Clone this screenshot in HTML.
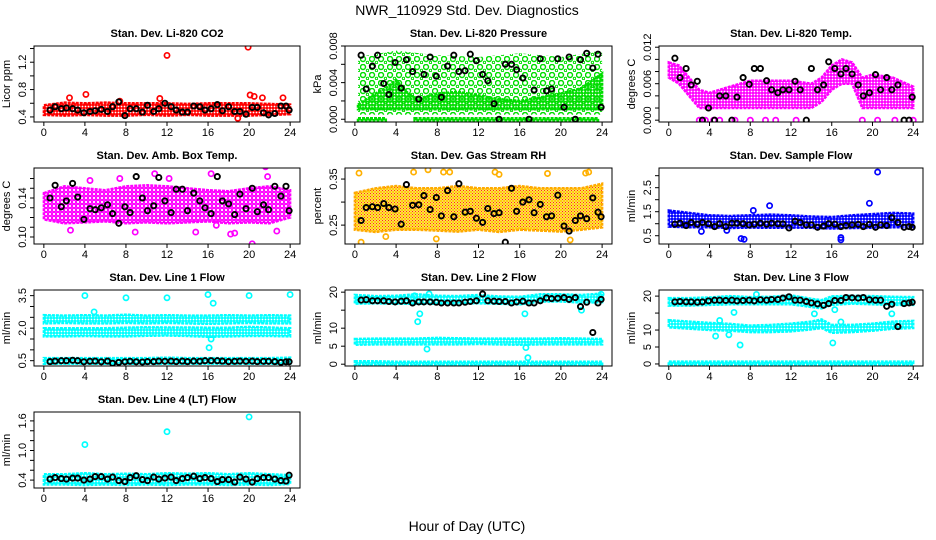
<!DOCTYPE html>
<html><head><meta charset="utf-8"><style>
html,body{margin:0;padding:0;background:#fff}
svg{display:block}
text{font-family:"Liberation Sans",Arial,sans-serif;fill:#000}
</style></head><body>
<svg id="chart" width="936" height="540" viewBox="0 0 936 540" xmlns="http://www.w3.org/2000/svg">
<defs>
<pattern id="pd-red" width="3" height="3" patternUnits="userSpaceOnUse"><circle cx="1.5" cy="1.5" r="1.6" fill="none" stroke="#ff0000" stroke-width="1.4"/></pattern>
<pattern id="pd-green" width="3" height="3" patternUnits="userSpaceOnUse"><circle cx="1.5" cy="1.5" r="1.6" fill="none" stroke="#00dd00" stroke-width="1.3"/></pattern>
<pattern id="ps-green" width="9" height="8" patternUnits="userSpaceOnUse"><circle cx="3" cy="3" r="2.5" fill="none" stroke="#00dd00" stroke-width="1.4"/><circle cx="7.5" cy="6.5" r="1.2" fill="none" stroke="#00dd00" stroke-width="1"/></pattern>
<pattern id="pd-mag" width="3" height="3" patternUnits="userSpaceOnUse"><circle cx="1.5" cy="1.5" r="1.6" fill="none" stroke="#ff00ff" stroke-width="1.4"/></pattern>
<pattern id="ps-mag" width="4" height="4" patternUnits="userSpaceOnUse"><circle cx="2" cy="2" r="1.8" fill="none" stroke="#ff00ff" stroke-width="1.4"/></pattern>
<pattern id="pd-org" width="3" height="3" patternUnits="userSpaceOnUse"><circle cx="1.5" cy="1.5" r="1.6" fill="none" stroke="#ffcc00" stroke-width="1.3"/><circle cx="1.5" cy="1.5" r="0.6" fill="#ff3300"/></pattern>
<pattern id="pd-blue" width="3" height="3" patternUnits="userSpaceOnUse"><circle cx="1.5" cy="1.5" r="1.6" fill="none" stroke="#0000ff" stroke-width="1.4"/></pattern>
<pattern id="pd-cyan" width="3" height="3" patternUnits="userSpaceOnUse"><circle cx="1.5" cy="1.5" r="1.6" fill="none" stroke="#00ffff" stroke-width="1.4"/></pattern>
</defs>
<text x="467" y="15" font-size="14" text-anchor="middle">NWR_110929  Std. Dev. Diagnostics</text>
<text x="467" y="531" font-size="14" text-anchor="middle">Hour of Day (UTC)</text>
</svg>
<script>
// ---- shared data ----
const xTicks = [0,4,8,12,16,20,24];
const blackHours = [0.6,1.1,1.7,2.2,2.8,3.3,3.9,4.5,5.0,5.6,6.2,6.7,7.3,7.9,8.4,9.0,9.6,10.1,10.7,11.2,11.8,12.4,12.9,13.5,14.0,14.6,15.2,15.7,16.3,16.9,17.4,18.0,18.6,19.1,19.7,20.3,20.8,21.4,21.9,22.5,23.1,23.6,23.9];

// Panel 1: Li-820 CO2
const co2BandX = [0,2,4,6,8,10,12,14,16,18,20,22,24];
const co2BandLo = [0.43,0.42,0.43,0.42,0.42,0.43,0.42,0.43,0.42,0.42,0.42,0.43,0.44];
const co2BandHi = [0.57,0.61,0.6,0.61,0.6,0.6,0.6,0.59,0.6,0.6,0.6,0.59,0.58];
const co2OutX = [12.0,19.9,4.1,2.5,20.1,20.5,11.3,21.3,23.3,18.9,7.4];
const co2OutY = [1.3,1.42,0.73,0.68,0.72,0.7,0.67,0.68,0.68,0.38,0.63];
const co2Black = [0.5,0.55,0.52,0.53,0.52,0.5,0.46,0.48,0.49,0.51,0.48,0.55,0.62,0.42,0.52,0.52,0.47,0.57,0.48,0.52,0.6,0.55,0.5,0.47,0.47,0.56,0.55,0.5,0.52,0.58,0.49,0.55,0.48,0.48,0.44,0.54,0.54,0.46,0.43,0.45,0.56,0.56,0.5];

// Panel 2: Li-820 Pressure
const prsZeroX1 = [0.3,3.0];
const prsZeroX2 = [5.8,23.6];
const prsDenseX = [0.3,2,3,4,5,6,8,10,12,14,16,18,20,22,24];
const prsDenseLo = [0.0011,0.0011,0.0011,0.0011,0.0011,0.0011,0.0011,0.0011,0.0011,0.0011,0.0011,0.0011,0.0011,0.0011,0.0011];
const prsDenseHi = [0.0016,0.0028,0.0034,0.0043,0.003,0.0022,0.0028,0.003,0.0026,0.0022,0.002,0.0024,0.0028,0.0034,0.005];
const prsSparseX = [0.3,4,8,12,16,20,24];
const prsSparseLo = [0.0005,0.0005,0.0005,0.0005,0.0005,0.0005,0.0005];
const prsSparseHi = [0.0068,0.0075,0.007,0.0068,0.0072,0.0068,0.0075];
const prsBlack = [0.007,0.0033,0.0058,0.007,0.0039,0.0027,0.0062,0.0034,0.0065,0.0052,0.0022,0.0049,0.0068,0.0047,0.0024,0.0058,0.007,0.0052,0.0053,0.0071,0.0064,0.0049,0.0042,0.0017,0.0,0.006,0.006,0.0054,0.0045,0.0,0.0032,0.0066,0.0031,0.0033,0.0066,0.0013,0.0068,0.0,0.0065,0.0072,0.0056,0.0071,0.0013];

// Panel 3: Li-820 Temp
const ltBandX = [0,1,2,3,4,6,8,10,12,14,15,16,17,18,19,20,22,24];
const ltBandLo = [0.007,0.006,0.004,0.002,0.002,0.002,0.002,0.002,0.002,0.002,0.003,0.005,0.006,0.006,0.002,0.002,0.002,0.002];
const ltBandHi = [0.0095,0.009,0.007,0.005,0.0045,0.0055,0.0065,0.0065,0.0065,0.006,0.007,0.009,0.01,0.0095,0.007,0.0075,0.007,0.0055];
const ltZeroX = [3.0,3.6,4.4,5.0,6.5,8.0,9.5,10.5,12.5,19.0,20.5,22.2,24.0];
const ltBlack = [0.0102,0.007,0.0085,0.0058,0.0064,0.0,0.002,0.0,0.004,0.004,0.0,0.0038,0.007,0.0059,0.0085,0.0085,0.0065,0.005,0.0045,0.005,0.005,0.0064,0.005,0.0,0.0085,0.005,0.0058,0.0096,0.0085,0.0076,0.0085,0.0076,0.0058,0.004,0.0045,0.0075,0.005,0.007,0.005,0.0058,0.0,0.0,0.0038];

// Panel 4: Amb. Box Temp
const abBandX = [0,2,4,6,8,10,12,14,16,18,20,22,24];
const abBandLo = [0.118,0.114,0.115,0.116,0.114,0.115,0.114,0.115,0.116,0.114,0.115,0.114,0.12];
const abBandHi = [0.145,0.152,0.15,0.148,0.152,0.153,0.152,0.15,0.148,0.147,0.15,0.152,0.148];
const abOutX = [2.6,4.5,7.4,8.9,10.8,12.2,14.8,16.3,18.2,18.6,20.3,21.6,21.8,22.7,0.3,16.8];
const abOutY = [0.107,0.158,0.16,0.105,0.165,0.16,0.105,0.165,0.103,0.104,0.093,0.172,0.162,0.106,0.14,0.112];
const abBlack = [0.14,0.153,0.131,0.137,0.155,0.141,0.118,0.129,0.128,0.13,0.133,0.124,0.114,0.131,0.125,0.162,0.14,0.127,0.132,0.161,0.137,0.125,0.149,0.149,0.127,0.145,0.137,0.13,0.124,0.162,0.137,0.134,0.123,0.144,0.129,0.15,0.126,0.133,0.128,0.152,0.142,0.152,0.127];

// Panel 5: Gas Stream RH
const rhBandX = [0,2,4,6,8,10,12,14,16,18,20,22,24];
const rhBandLo = [0.24,0.235,0.24,0.24,0.238,0.236,0.24,0.235,0.24,0.238,0.236,0.24,0.245];
const rhBandHi = [0.32,0.33,0.335,0.33,0.33,0.335,0.33,0.33,0.335,0.33,0.33,0.33,0.34];
const rhOutX = [0.4,0.6,5.7,7.1,8.6,9.2,13.6,14.0,18.7,22.4,22.7,3.0,7.9,20.9];
const rhOutY = [0.363,0.213,0.365,0.37,0.365,0.365,0.365,0.36,0.362,0.363,0.365,0.225,0.22,0.218];
const rhBlack = [0.26,0.288,0.29,0.288,0.297,0.288,0.285,0.252,0.338,0.293,0.294,0.314,0.284,0.31,0.27,0.325,0.268,0.34,0.278,0.28,0.265,0.256,0.286,0.275,0.277,0.213,0.33,0.28,0.3,0.305,0.277,0.295,0.268,0.27,0.315,0.248,0.237,0.26,0.27,0.264,0.309,0.278,0.268];

// Panel 6: Sample Flow
const sfBandX = [0,2,4,6,8,10,12,14,16,18,20,22,24];
const sfBandLo = [0.88,0.85,0.85,0.82,0.84,0.83,0.84,0.83,0.8,0.82,0.83,0.85,0.86];
const sfBandHi = [1.55,1.45,1.35,1.32,1.35,1.38,1.35,1.3,1.28,1.35,1.4,1.45,1.42];
const sfOutX = [3.2,5.7,7.1,7.4,8.3,9.9,16.9,16.9,19.7,20.5];
const sfOutY = [0.68,0.72,0.38,0.35,1.55,1.75,0.33,0.42,1.85,3.15];
const sfBlack = [0.98,1.02,0.92,1.05,0.98,1.05,1.0,0.88,1.0,0.88,1.02,1.02,1.0,0.95,0.98,1.02,0.98,1.02,1.0,0.99,0.82,1.1,1.05,0.95,0.95,0.85,0.9,1.0,0.98,0.88,0.92,0.95,0.97,0.88,0.97,0.85,0.95,0.92,1.25,1.05,0.85,0.88,0.85];

// Panel 7: Line 1 Flow
const l1BandX = [0,2,4,6,8,10,12,14,16,18,20,22,24];
const l1TopLo = [2.22,2.24,2.22,2.22,2.24,2.22,2.24,2.22,2.2,2.22,2.24,2.22,2.22];
const l1TopHi = [2.6,2.58,2.6,2.58,2.62,2.58,2.6,2.58,2.58,2.6,2.58,2.6,2.58];
const l1MidLo = [1.62,1.62,1.64,1.62,1.62,1.65,1.66,1.64,1.6,1.62,1.64,1.64,1.62];
const l1MidHi = [2.0,2.0,2.0,2.0,2.02,2.04,2.03,2.03,2.02,2.02,2.06,2.03,2.0];
const l1LowLo = [0.36,0.36,0.36,0.36,0.36,0.36,0.36,0.36,0.36,0.36,0.36,0.36,0.36];
const l1LowHi = [0.62,0.62,0.62,0.62,0.62,0.62,0.64,0.62,0.62,0.62,0.62,0.62,0.64];
const l1OutX = [4.0,8.0,12.0,16.0,20.0,24.0,4.9,16.5,16.3,16.1];
const l1OutY = [3.5,3.4,3.4,3.55,3.5,3.55,2.75,3.15,1.5,1.1];
const l1Black = [0.46,0.48,0.5,0.5,0.52,0.5,0.45,0.47,0.48,0.45,0.48,0.38,0.42,0.45,0.47,0.45,0.44,0.46,0.46,0.48,0.47,0.48,0.46,0.48,0.46,0.48,0.47,0.5,0.5,0.5,0.48,0.46,0.47,0.48,0.47,0.48,0.46,0.47,0.47,0.46,0.42,0.45,0.45];

// Panel 8: Line 2 Flow
const l2BandX = [0,2,4,6,8,10,12,14,16,18,20,22,24];
const l2TopLo = [16.8,16.9,16.8,16.8,16.8,16.9,16.9,16.8,16.6,17.4,17.4,17.1,17.2];
const l2TopHi = [19.2,18.9,19.0,19.4,19.0,18.9,19.2,18.8,18.7,19.4,19.4,19.2,19.6];
const l2MidLo = [5.4,5.5,5.5,5.5,5.5,5.5,5.6,5.5,5.4,5.5,5.5,5.5,5.5];
const l2MidHi = [7.0,7.1,7.1,7.1,7.3,7.2,7.1,7.1,7.1,7.1,7.2,7.1,7.0];
const l2LowLo = [-0.3,-0.3,-0.3,-0.3,-0.3,-0.3,-0.3,-0.3,-0.3,-0.3,-0.3,-0.3,-0.3];
const l2LowHi = [0.8,0.8,0.7,0.7,0.7,0.7,0.7,0.7,0.7,0.7,0.7,0.7,0.7];
const l2OutX = [6.1,6.3,7.0,7.2,16.5,16.6,16.8,22.0,5.8,23.9];
const l2OutY = [11.8,14.0,4.2,19.5,14.0,4.6,1.8,15.0,19.0,19.4];
const l2Black = [17.8,17.9,17.6,17.6,17.6,17.4,17.3,17.5,17.6,17.0,17.3,17.3,17.3,17.2,17.0,17.0,17.0,17.0,17.2,17.4,17.6,19.5,17.6,17.5,17.4,17.4,17.0,17.3,17.5,17.0,17.0,17.6,18.4,18.2,18.3,18.5,18.0,18.5,16.0,17.2,8.8,17.0,18.0];

// Panel 9: Line 3 Flow
const l3BandX = [0,2,4,6,8,10,12,14,15,16,18,20,22,24];
const l3TopLo = [17.2,17.2,17.4,17.6,17.6,17.6,17.6,16.8,16.4,17.4,17.8,17.6,17.4,17.4];
const l3TopHi = [19.4,19.4,19.6,20.0,19.7,19.8,20.2,19.2,18.8,19.9,20.1,20.0,19.8,19.7];
const l3MidLo = [10.8,10.4,10.0,9.8,9.4,9.4,9.6,10.2,10.6,9.2,9.4,9.8,10.4,10.6];
const l3MidHi = [12.9,12.5,12.1,11.8,11.3,11.5,11.9,12.5,13.1,11.5,11.5,11.9,12.5,12.7];
const l3LowLo = [-0.3,-0.3,-0.3,-0.3,-0.3,-0.3,-0.3,-0.3,-0.3,-0.3,-0.3,-0.3,-0.3,-0.3];
const l3LowHi = [0.7,0.7,0.7,0.7,0.7,0.7,0.7,0.7,0.7,0.7,0.7,0.7,0.7,0.7];
const l3OutX = [4.6,5.0,5.9,6.4,7.0,14.3,16.1,16.3,16.9,21.9,8.6];
const l3OutY = [8.2,12.8,8.6,15.2,5.6,14.8,6.2,16.0,12.4,14.8,20.5];
const l3Black = [18.3,18.4,18.3,18.3,18.2,18.3,18.6,18.8,18.8,18.7,18.8,18.6,18.7,18.8,18.6,18.9,18.8,19.0,19.0,19.4,19.8,18.8,18.8,18.4,18.0,17.7,17.3,17.8,18.7,18.7,19.6,19.5,19.4,19.6,18.9,18.8,18.8,17.0,17.6,11.0,17.8,18.0,18.2];

// Panel 10: Line 4 (LT) Flow
const l4BandX = [0,2,4,6,8,10,12,14,16,18,20,22,24];
const l4BandLo = [0.31,0.31,0.3,0.31,0.3,0.31,0.3,0.31,0.31,0.3,0.31,0.3,0.32];
const l4BandHi = [0.52,0.52,0.54,0.52,0.53,0.52,0.54,0.53,0.54,0.52,0.54,0.52,0.5];
const l4OutX = [4.0,12.0,20.0];
const l4OutY = [1.12,1.38,1.68];
const l4Black = [0.42,0.45,0.43,0.42,0.44,0.44,0.4,0.42,0.47,0.47,0.42,0.46,0.39,0.37,0.45,0.49,0.41,0.39,0.46,0.42,0.44,0.46,0.39,0.43,0.45,0.48,0.43,0.45,0.43,0.37,0.41,0.41,0.36,0.46,0.42,0.36,0.43,0.45,0.45,0.42,0.39,0.38,0.5];

// ---- rendering ----
const NS = 'http://www.w3.org/2000/svg';
const svg = document.getElementById('chart');
const colL = [34,345,659], colR = [300,612,923];
const rowT = [46,168,290,412], boxH = 76;

function mk(tag, attrs, parent){
  const e = document.createElementNS(NS, tag);
  for (const k in attrs) e.setAttribute(k, attrs[k]);
  (parent||svg).appendChild(e);
  return e;
}

function panel(cfg){
  const L = colL[cfg.col], R = colR[cfg.col], T = rowT[cfg.row], B = T + boxH;
  const g = mk('g', {});
  
  
  const xs = h => L + (R-L)*(0.04 + h/24)/1.08;
  const ys = v => B - (v - cfg.ymin)/(cfg.ymax - cfg.ymin)*(B-T);
  const clipId = 'clip-' + cfg.name;
  const cp = mk('clipPath', {id: clipId}, g);
  mk('rect', {x:L, y:T, width:R-L, height:B-T}, cp);
  const plot = mk('g', {'clip-path': 'url(#'+clipId+')'}, g);
  (cfg.bands||[]).forEach(b => {
    let d = '';
    b.x.forEach((h,i) => { d += (i? 'L':'M') + xs(h).toFixed(1) + ' ' + ys(b.hi[i]).toFixed(1); });
    for (let i=b.x.length-1;i>=0;i--) d += 'L' + xs(b.x[i]).toFixed(1) + ' ' + ys(b.lo[i]).toFixed(1);
    const p = mk('path', {d: d+'Z', fill: 'url(#'+b.pat+')', stroke: b.stroke, 'stroke-width': 2.5, 'stroke-dasharray': b.stroke==='none'?'':'3 1'}, plot);
    
    
  });
  (cfg.points||[]).forEach(s => {
    s.x.forEach((h,i) => {
      const c = mk('circle', {cx: xs(h).toFixed(1), cy: ys(s.y[i]).toFixed(1), r: 2.6, fill: 'none', stroke: s.color, 'stroke-width': s.w||1.7}, plot);
      
      
    });
  });
  const box = mk('rect', {x:L, y:T, width:R-L, height:B-T, fill:'none', stroke:'#000', 'stroke-width':1}, g);
  
  
  mk('line', {x1: xs(0), x2: xs(24), y1: B, y2: B, stroke:'#000'}, g);
  xTicks.forEach(t => {
    mk('line', {x1: xs(t), x2: xs(t), y1: B, y2: B+4, stroke:'#000'}, g);
    const tx = mk('text', {x: xs(t), y: B+14, 'font-size': 11, 'text-anchor':'middle'}, g);
    tx.textContent = t;
    
    
  });
  cfg.yticks.forEach(t => {
    mk('line', {x1: L-4, x2: L, y1: ys(t), y2: ys(t), stroke:'#000'}, g);
  });
  cfg.ylabels.forEach((t,i) => {
    const yy = ys(cfg.ylabelVals[i]);
    const tx = mk('text', {x: L-8, y: yy, 'font-size': 11, 'text-anchor':'middle', transform: 'rotate(-90 '+(L-8)+' '+yy+')'}, g);
    tx.textContent = t;
    
    
  });
  const cy = (T+B)/2;
  const yl = mk('text', {x: L-24, y: cy, 'font-size': 11, 'text-anchor':'middle', transform:'rotate(-90 '+(L-24)+' '+cy+')'}, g);
  yl.textContent = cfg.ylab;
  
  
  const tt = mk('text', {x:(L+R)/2, y:T-9, 'font-size': 11, 'font-weight':'bold', 'text-anchor':'middle'}, g);
  tt.textContent = cfg.title;
  
  
}
const BK = {x: blackHours, color:'#000', label:'black-point', w:1.9};
const flat = (n,v) => Array(n).fill(v);

panel({name:'co2-panel', col:0,row:0,title:'Stan. Dev. Li-820 CO2', ylab:'Licor ppm', ymin:0.326, ymax:1.437,
  yticks:[0.4,0.6,0.8,1.0,1.2,1.4], ylabels:['0.4','0.8','1.2'], ylabelVals:[0.4,0.8,1.2],
  bands:[{x:co2BandX, lo:co2BandLo, hi:co2BandHi, pat:'pd-red', stroke:'#ff0000'}],
  points:[{x:co2OutX,y:co2OutY,color:'#ff0000',label:'red-point'},{...BK, y:co2Black}]});

panel({name:'pressure-panel', col:1,row:0,title:'Stan. Dev. Li-820 Pressure', ylab:'kPa', ymin:-0.0003, ymax:0.008,
  yticks:[0,0.002,0.004,0.006,0.008], ylabels:['0.000','0.004','0.008'], ylabelVals:[0,0.004,0.008],
  bands:[{x:prsSparseX, lo:prsSparseLo, hi:prsSparseHi, pat:'ps-green', stroke:'none'},
         {x:prsDenseX, lo:prsDenseLo, hi:prsDenseHi, pat:'pd-green', stroke:'#00dd00'},
         {x:prsZeroX1, lo:[-0.0001,-0.0001], hi:[0.0001,0.0001], pat:'pd-green', stroke:'#00dd00'},
         {x:prsZeroX2, lo:[-0.0001,-0.0001], hi:[0.0001,0.0001], pat:'pd-green', stroke:'#00dd00'}],
  points:[{...BK, y:prsBlack}]});

panel({name:'li-temp-panel', col:2,row:0,title:'Stan. Dev. Li-820 Temp.', ylab:'degrees C', ymin:-0.0003, ymax:0.0122,
  yticks:[0,0.002,0.004,0.006,0.008,0.01,0.012], ylabels:['0.000','0.006','0.012'], ylabelVals:[0,0.006,0.012],
  bands:[{x:ltBandX, lo:ltBandLo, hi:ltBandHi, pat:'pd-mag', stroke:'#ff00ff'}],
  points:[{x:ltZeroX, y:flat(ltZeroX.length,0), color:'#ff00ff', label:'magenta-point'},{...BK, y:ltBlack}]});

panel({name:'amb-box-panel', col:0,row:1,title:'Stan. Dev. Amb. Box Temp.', ylab:'degrees C', ymin:0.0928, ymax:0.1708,
  yticks:[0.10,0.11,0.12,0.13,0.14,0.15,0.16], ylabels:['0.10','0.14'], ylabelVals:[0.10,0.14],
  bands:[{x:abBandX, lo:abBandLo, hi:abBandHi, pat:'ps-mag', stroke:'#ff00ff'}],
  points:[{x:abOutX,y:abOutY,color:'#ff00ff',label:'magenta-point'},{...BK, y:abBlack}]});

panel({name:'rh-panel', col:1,row:1,title:'Stan. Dev. Gas Stream RH', ylab:'percent', ymin:0.209, ymax:0.374,
  yticks:[0.25,0.30,0.35], ylabels:['0.25','0.35'], ylabelVals:[0.25,0.35],
  bands:[{x:rhBandX, lo:rhBandLo, hi:rhBandHi, pat:'pd-org', stroke:'#ffaa00'}],
  points:[{x:rhOutX,y:rhOutY,color:'#ffb000',label:'orange-point'},{...BK, y:rhBlack}]});

panel({name:'sample-flow-panel', col:2,row:1,title:'Stan. Dev. Sample Flow', ylab:'ml/min', ymin:0.155, ymax:3.32,
  yticks:[0.5,1.0,1.5,2.0,2.5,3.0], ylabels:['0.5','1.5','2.5'], ylabelVals:[0.5,1.5,2.5],
  bands:[{x:sfBandX, lo:sfBandLo, hi:sfBandHi, pat:'pd-blue', stroke:'#0000ff'}],
  points:[{x:sfOutX,y:sfOutY,color:'#0000ff',label:'blue-point'},{...BK, y:sfBlack}]});

panel({name:'line1-panel', col:0,row:2,title:'Stan. Dev. Line 1 Flow', ylab:'ml/min', ymin:0.255, ymax:3.76,
  yticks:[0.5,1.0,1.5,2.0,2.5,3.0,3.5], ylabels:['0.5','2.0','3.5'], ylabelVals:[0.5,2.0,3.5],
  bands:[{x:l1BandX, lo:l1TopLo, hi:l1TopHi, pat:'pd-cyan', stroke:'#00ffff'},
         {x:l1BandX, lo:l1MidLo, hi:l1MidHi, pat:'pd-cyan', stroke:'#00ffff'},
         {x:l1BandX, lo:l1LowLo, hi:l1LowHi, pat:'pd-cyan', stroke:'#00ffff'}],
  points:[{x:l1OutX,y:l1OutY,color:'#00ffff',label:'cyan-point'},{...BK, y:l1Black}]});

panel({name:'line2-panel', col:1,row:2,title:'Stan. Dev. Line 2 Flow', ylab:'ml/min', ymin:-0.5, ymax:20.6,
  yticks:[0,5,10,15,20], ylabels:['0','5','10','20'], ylabelVals:[0,5,10,20],
  bands:[{x:l2BandX, lo:l2TopLo, hi:l2TopHi, pat:'pd-cyan', stroke:'#00ffff'},
         {x:l2BandX, lo:l2MidLo, hi:l2MidHi, pat:'pd-cyan', stroke:'#00ffff'},
         {x:l2BandX, lo:l2LowLo, hi:l2LowHi, pat:'pd-cyan', stroke:'#00ffff'}],
  points:[{x:l2OutX,y:l2OutY,color:'#00ffff',label:'cyan-point'},{...BK, y:l2Black}]});

panel({name:'line3-panel', col:2,row:2,title:'Stan. Dev. Line 3 Flow', ylab:'ml/min', ymin:-0.6, ymax:21.8,
  yticks:[0,5,10,15,20], ylabels:['0','5','10','20'], ylabelVals:[0,5,10,20],
  bands:[{x:l3BandX, lo:l3TopLo, hi:l3TopHi, pat:'pd-cyan', stroke:'#00ffff'},
         {x:l3BandX, lo:l3MidLo, hi:l3MidHi, pat:'pd-cyan', stroke:'#00ffff'},
         {x:l3BandX, lo:l3LowLo, hi:l3LowHi, pat:'pd-cyan', stroke:'#00ffff'}],
  points:[{x:l3OutX,y:l3OutY,color:'#00ffff',label:'cyan-point'},{...BK, y:l3Black}]});

panel({name:'line4-panel', col:0,row:3,title:'Stan. Dev. Line 4 (LT) Flow', ylab:'ml/min', ymin:0.24, ymax:1.78,
  yticks:[0.4,0.6,0.8,1.0,1.2,1.4,1.6], ylabels:['0.4','1.0','1.6'], ylabelVals:[0.4,1.0,1.6],
  bands:[{x:l4BandX, lo:l4BandLo, hi:l4BandHi, pat:'pd-cyan', stroke:'#00ffff'}],
  points:[{x:l4OutX,y:l4OutY,color:'#00ffff',label:'cyan-point'},{...BK, y:l4Black}]});
</script>
</body></html>
